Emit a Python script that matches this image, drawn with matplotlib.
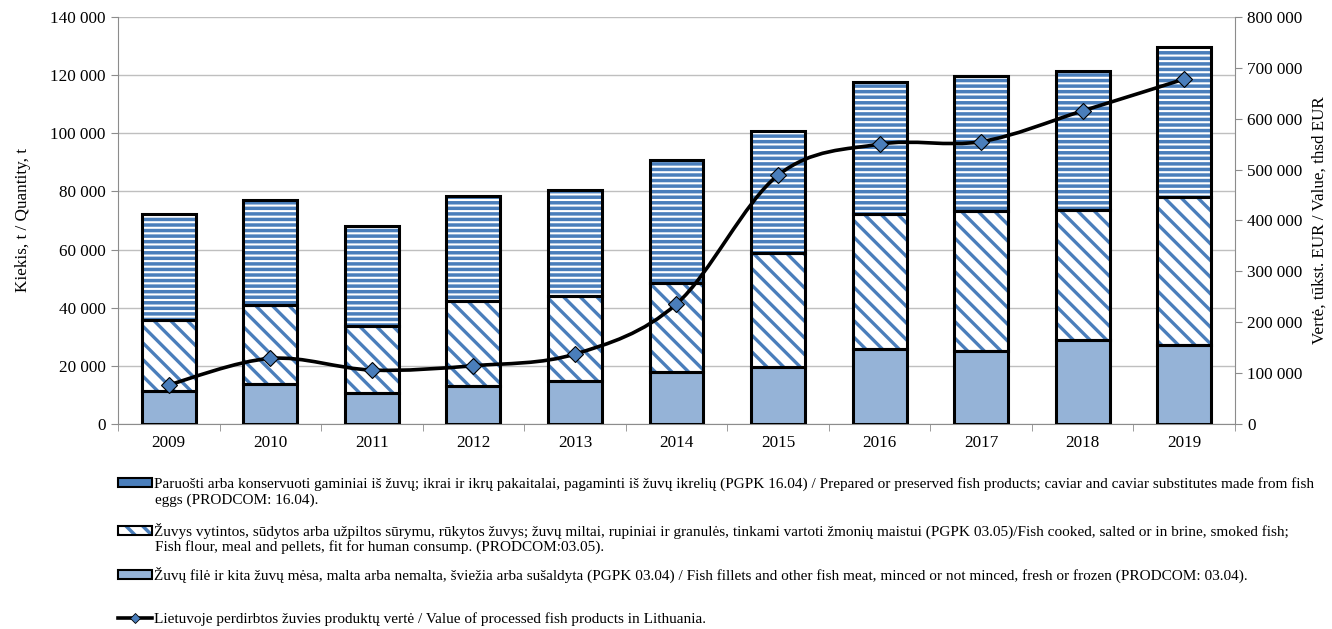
import matplotlib.pyplot as plt
from matplotlib.patches import Patch
from matplotlib.lines import Line2D
from matplotlib.path import Path
from matplotlib.patches import PathPatch
from matplotlib.legend_handler import HandlerTuple

plt.rcParams['font.family'] = ['Liberation Serif', 'DejaVu Serif']

# duomenys
years = ['2009', '2010', '2011', '2012', '2013', '2014', '2015', '2016', '2017', '2018', '2019']
fillets = [11300, 13700, 10700, 13200, 14800, 17900, 19600, 25700, 25200, 28900, 27200]      # PGPK 03.04
cooked_tops = [35800, 40900, 33700, 42400, 44000, 48500, 58800, 72200, 73300, 73600, 78100]  # PGPK 03.05 (virsus)
totals = [72200, 77000, 68000, 78400, 80500, 90800, 100800, 117700, 119700, 121500, 129800]  # PGPK 16.04 (virsus)
value = [77000, 129000, 106000, 114500, 137500, 236000, 489000, 550000, 555000, 615500, 678000]  # tukst. EUR

cooked = [t - f for t, f in zip(cooked_tops, fillets)]
prepared = [t - c for t, c in zip(totals, cooked_tops)]

labels = [
    'Paruošti arba konservuoti gaminiai iš žuvų; ikrai ir ikrų pakaitalai, pagaminti iš žuvų ikrelių (PGPK 16.04) / '
    'Prepared or preserved fish products; caviar and caviar substitutes made from fish',
    'Žuvys vytintos, sūdytos arba užpiltos sūrymu, rūkytos žuvys; žuvų miltai, rupiniai ir granulės, tinkami vartoti '
    'žmonių maistui (PGPK 03.05)/Fish cooked, salted or in brine, smoked fish;',
    'Žuvų filė ir kita žuvų mėsa, malta arba nemalta, šviežia arba sušaldyta (PGPK 03.04) / Fish fillets and other '
    'fish meat, minced or not minced, fresh or frozen (PRODCOM: 03.04).',
    'Lietuvoje perdirbtos žuvies produktų vertė / Value of processed fish products in Lithuania.',
]
label_tails = ['eggs (PRODCOM: 16.04).',
               'Fish flour, meal and pellets, fit for human consump. (PRODCOM:03.05).',
               None, None]

blue = '#4a7ebb'
light = '#95b3d7'
grid = '#bfbfbf'
axc = '#8c8c8c'

fig = plt.figure(figsize=(13.32, 6.29), dpi=100)
ax = fig.add_axes([118/1332, 1-424/629, (1235-118)/1332, 407/629])
x = list(range(len(years)))
w = 0.53


def layer(bottom, height, face, hatch, hlw):
    plt.rcParams['hatch.linewidth'] = hlw
    bars = ax.bar(x, height, w, bottom=bottom, color=face, edgecolor=blue if hatch else face,
                  hatch=hatch, linewidth=0, zorder=2)
    for b in bars:
        if hasattr(b, 'set_hatch_linewidth'):
            b.set_hatch_linewidth(hlw)
    ax.bar(x, height, w, bottom=bottom, fill=False, edgecolor='black', linewidth=2.2, zorder=3)


layer([0]*len(x), fillets, light, None, 1)
layer(fillets, cooked, 'white', '\\\\', 2.4)
layer(cooked_tops, prepared, 'white', '---', 2.5)

ax.set_xlim(-0.5, len(years) - 0.5)
ax.set_ylim(0, 140000)
ax.set_yticks(range(0, 140001, 20000))
ax.set_yticklabels([f'{v:,}'.replace(',', ' ') for v in range(0, 140001, 20000)])
ax.yaxis.grid(True, color=grid, linewidth=1)
ax.set_axisbelow(True)
ax.set_xticks(x)
ax.set_xticklabels(years)
ax.set_xticks([i - 0.5 for i in range(len(years) + 1)], minor=True)
ax.tick_params(axis='x', which='major', length=0, pad=8, labelsize=12.3)
ax.tick_params(axis='x', which='minor', length=5, color=axc)
ax.tick_params(axis='y', length=5, color=axc, labelsize=12.3, pad=4)
for s in ['top', 'right']:
    ax.spines[s].set_visible(False)
ax.spines['left'].set_color(axc)
ax.spines['bottom'].set_color(axc)
ax.set_ylabel('Kiekis, t / Quantity, t', fontsize=12.3, labelpad=14)

ax2 = ax.twinx()
ax2.set_ylim(0, 800000)
ax2.set_yticks(range(0, 800001, 100000))
ax2.set_yticklabels([f'{v:,}'.replace(',', ' ') for v in range(0, 800001, 100000)])
ax2.tick_params(axis='y', length=5, color=axc, labelsize=12.3, pad=4)
for s in ['top', 'left', 'bottom']:
    ax2.spines[s].set_visible(False)
ax2.spines['right'].set_color(axc)
ax2.set_ylabel('Vertė, tūkst. EUR / Value, thsd EUR', fontsize=12.3, labelpad=6)

# isglodinta linija (kaip Excel)
pts = list(zip(x, value))
verts = [pts[0]]
codes = [Path.MOVETO]
n = len(pts)
for i in range(n - 1):
    p0 = pts[max(i - 1, 0)]
    p1 = pts[i]
    p2 = pts[i + 1]
    p3 = pts[min(i + 2, n - 1)]
    c1 = (p1[0] + (p2[0] - p0[0]) / 6, p1[1] + (p2[1] - p0[1]) / 6)
    c2 = (p2[0] - (p3[0] - p1[0]) / 6, p2[1] - (p3[1] - p1[1]) / 6)
    verts += [c1, c2, p2]
    codes += [Path.CURVE4] * 3
ax2.add_patch(PathPatch(Path(verts, codes), fill=False, edgecolor='black', linewidth=2.6, zorder=4))
ax2.plot(x, value, linestyle='none', marker='D', markersize=8, markerfacecolor=blue,
         markeredgecolor='black', markeredgewidth=0.8, zorder=5)

# legenda
h1 = (Patch(facecolor=blue, edgecolor='white', hatch='-', linewidth=0), Patch(fill=False, edgecolor='black', linewidth=1.5))
h2 = (Patch(facecolor='white', edgecolor=blue, hatch='\\\\', linewidth=0), Patch(fill=False, edgecolor='black', linewidth=1.5))
h3 = Patch(facecolor=light, edgecolor='black', linewidth=1.5)
h4 = Line2D([], [], color='black', linewidth=2.6, marker='D', markersize=5, markerfacecolor=blue,
            markeredgecolor='black', markeredgewidth=0.6)
handles = [h1, h2, h3, h4]
ys = [484, 531, 575, 619]
lfs = 11
for h, lab, tail, yy in zip(handles, labels, label_tails, ys):
    fig.legend([h], [lab], loc='center left', bbox_to_anchor=(118/1332, 1 - yy/629),
               frameon=False, fontsize=lfs, handlelength=2.25, handleheight=0.5, handletextpad=0.1,
               borderpad=0, borderaxespad=0, handler_map={tuple: HandlerTuple(ndivide=1)})
    if tail:
        fig.text(155/1332, 1 - (yy + 16)/629, tail, fontsize=lfs, va='center', ha='left')

fig.savefig('out.png', dpi=100)
